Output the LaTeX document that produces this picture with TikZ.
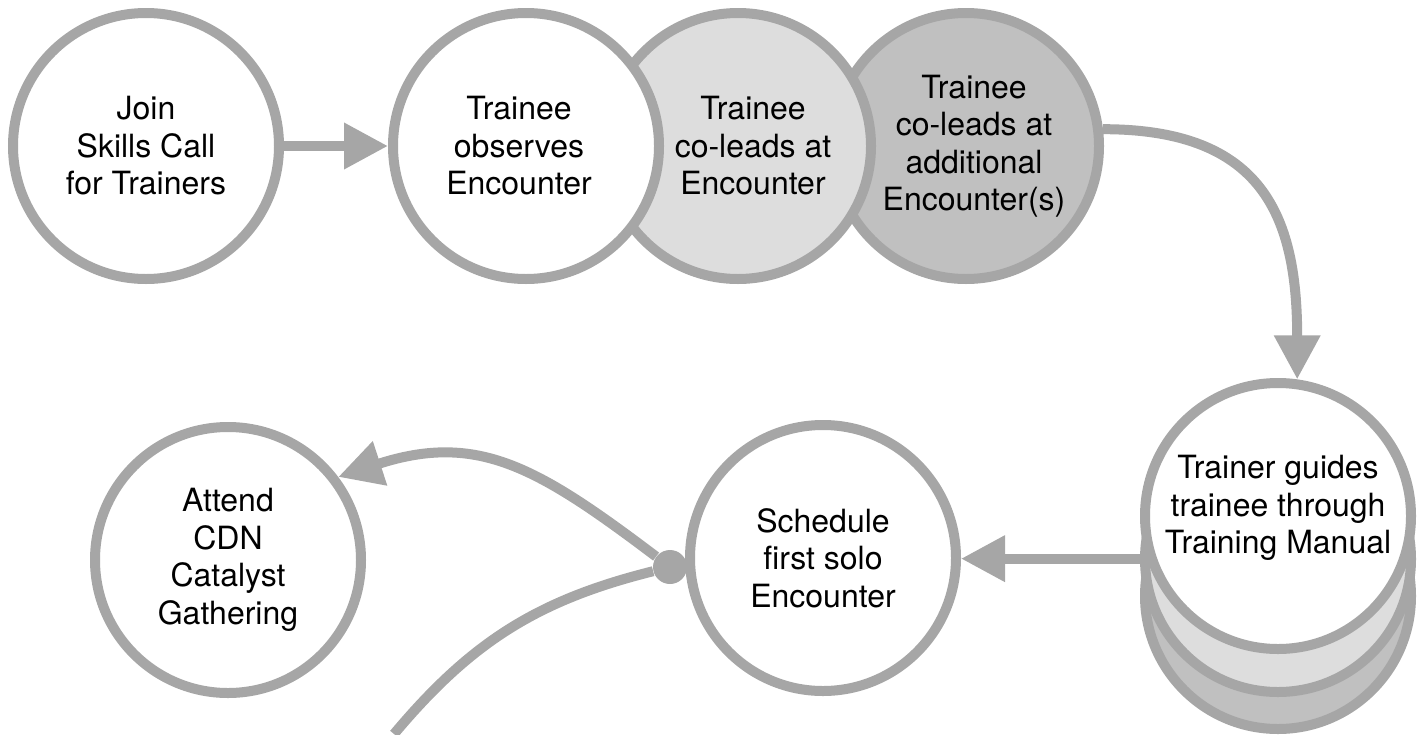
\documentclass[tikz,border=0pt]{standalone}
\usepackage{fontspec}
\setmainfont{TeX Gyre Heros}
\usetikzlibrary{arrows.meta}

\definecolor{rimgray}{RGB}{166,166,166}
\definecolor{paleshade}{RGB}{221,221,221}
\definecolor{midshade}{RGB}{192,192,192}
\newcommand{\bubblefont}{\fontsize{16}{18.75}\selectfont}

\tikzset{
  bubble/.style={circle, draw=rimgray, line width=5pt, fill=white,
    minimum size=133pt, inner sep=0pt, align=center, font=\bubblefont},
  caption/.style={align=center, font=\bubblefont},
  link/.style={draw=rimgray, line width=5pt},
  flow/.style={link, -{Triangle[length=22pt,width=22pt]}},
}

\begin{document}
\begin{tikzpicture}[x=0.5pt,y=-0.5pt]
\useasboundingbox (0,0) rectangle (1424,734);

% top row
\node[bubble] (join) at (146,146) {Join\\Skills Call\\for Trainers};
\node[bubble, fill=midshade, label={[caption,xshift=4pt]center:Trainee\\co-leads at\\additional\\Encounter(s)}] (coadd) at (966,146) {};
\node[bubble, fill=paleshade, label={[caption,xshift=7.5pt]center:Trainee\\co-leads at\\Encounter}] (colead) at (738,146) {};
\node[bubble, label={[caption,xshift=-3.5pt]center:Trainee\\observes\\Encounter}] (observe) at (526,146) {};

% stacked manual
\node[bubble, fill=midshade] (guidelow) at (1278,596) {};
\node[bubble, fill=paleshade] (guidemid) at (1278,559) {};
\node[bubble, label={[caption,yshift=4pt]center:Trainer guides\\trainee through\\Training Manual}] (guide) at (1278,516) {};

% bottom row
\node[bubble] (sched) at (823,558) {Schedule\\first solo\\Encounter};
\node[bubble] (attend) at (228,560) {Attend\\CDN\\Catalyst\\Gathering};
\node[circle, fill=rimgray, minimum size=17pt, inner sep=0pt] (hub) at (670,567) {};
\coordinate (tail) at (394,734);

% connectors
\draw[flow] (join) -- (observe);
\draw[flow] (coadd.7) to[out=0, in=90, looseness=1.3] (guide.82);
\draw[flow] (guide.198) -- (guide.198 -| sched.east);
\draw[flow] (hub) to[out=143, in=18, looseness=1.15] (attend.37);
\draw[link] (hub) to[out=194, in=50] (tail);
\end{tikzpicture}
\end{document}
